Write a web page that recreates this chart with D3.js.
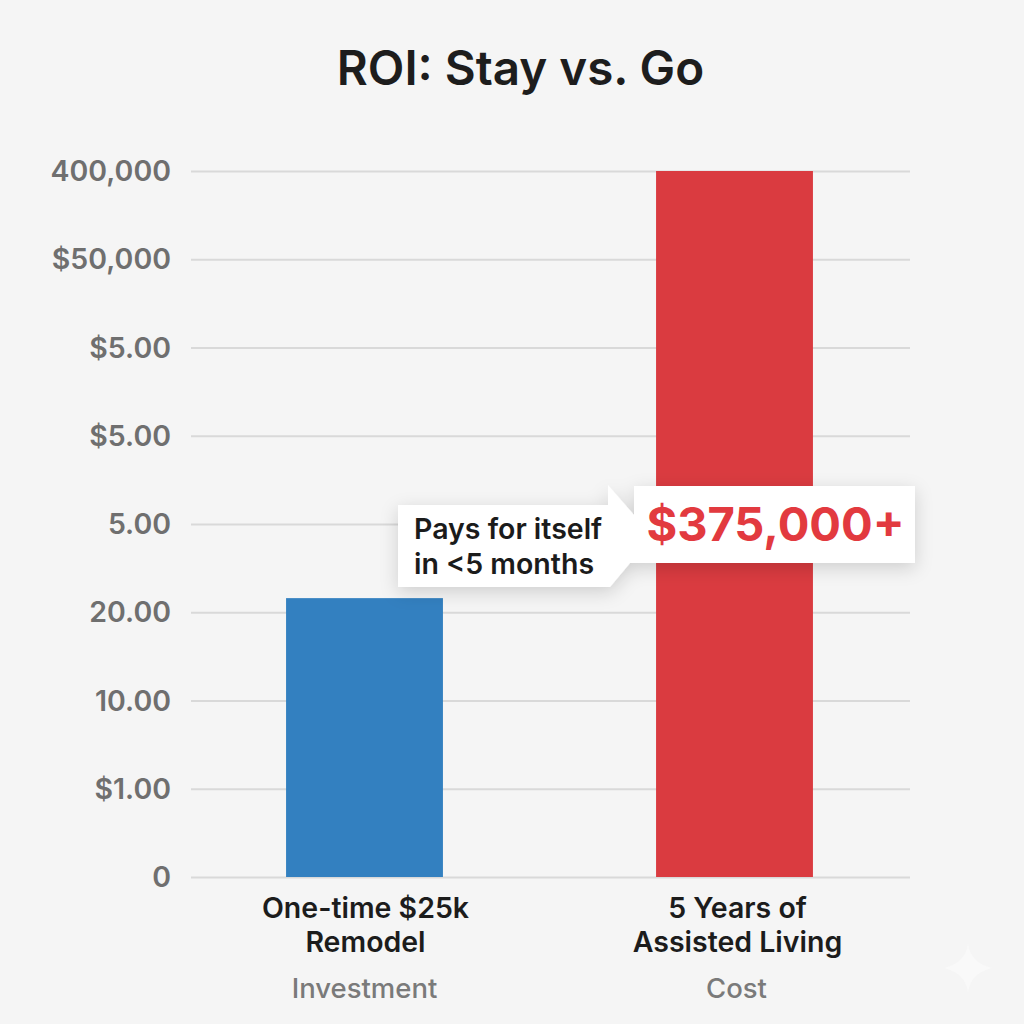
<!DOCTYPE html>
<html><head><meta charset="utf-8">
<script src="https://cdn.jsdelivr.net/npm/d3@7/dist/d3.min.js"></script>
<style>html,body{margin:0;padding:0;background:#f5f5f5}svg{display:block;font-family:Inter,sans-serif}</style>
</head><body><svg id="c" width="1024" height="1024"></svg>
<script>
const title = "ROI: Stay vs. Go";
const categories = ["One-time $25k|Remodel", "5 Years of|Assisted Living"];
const roles = ["Investment", "Cost"];
const values = [158000, 400000];
const barColors = ["#3380c0", "#da3b40"];
const tickValues = [0, 50000, 100000, 150000, 200000, 250000, 300000, 350000, 400000];
const tickLabels = ["0", "$1.00", "10.00", "20.00", "5.00", "$5.00", "$5.00", "$50,000", "400,000"];
const calloutLeft = ["Pays for itself", "in <5 months"];
const calloutRight = "$375,000+";

const svg = d3.select("#c");
const defs = svg.append("defs");
const f = defs.append("filter").attr("id","sh").attr("x","-20%").attr("y","-30%").attr("width","140%").attr("height","170%");
f.append("feDropShadow").attr("dx",0).attr("dy",5).attr("stdDeviation",9).attr("flood-color","#000").attr("flood-opacity",0.16);

svg.append("rect").attr("width",1024).attr("height",1024).attr("fill","#f5f5f5");

const y = d3.scaleLinear().domain([0,400000]).range([877,171]);
const x = d3.scaleBand().domain(categories).range([179.5,919.5]).paddingInner(0.576).paddingOuter(0.288);

svg.append("text").attr("x",520.5).attr("y",85).attr("text-anchor","middle")
  .attr("font-size",47.6).attr("font-weight",600).attr("fill","#1d1d1d").text(title);

const axis = d3.axisLeft(y).tickValues(tickValues).tickSize(0).tickPadding(0)
  .tickFormat((d,i)=>tickLabels[i]);
const ag = svg.append("g").attr("transform","translate(171,0)").call(axis);
ag.select(".domain").remove();
ag.selectAll("text").attr("font-family","Inter,sans-serif").attr("font-size",28.5).attr("font-weight",600).attr("fill","#6f6f6f").attr("dy","0.34em");
ag.selectAll(".tick").append("line").attr("x1",20).attr("x2",739).attr("stroke","#d9d9d9").attr("stroke-width",2);

svg.append("g").selectAll("rect").data(categories).join("rect")
  .attr("x",d=>x(d)).attr("width",x.bandwidth())
  .attr("y",(d,i)=>y(values[i])).attr("height",(d,i)=>y(0)-y(values[i]))
  .attr("fill",(d,i)=>barColors[i]);

const lab = svg.append("g").attr("text-anchor","middle");
const labelShift = [1, 3];
categories.forEach((c,i)=>{
  const cx = x(c)+x.bandwidth()/2+labelShift[i];
  c.split("|").forEach((t,j)=>{
    lab.append("text").attr("x",cx).attr("y",918+j*33.5).attr("font-size",28.5).attr("font-weight",600).attr("fill","#1c1c1c").text(t);
  });
  lab.append("text").attr("x",cx-1).attr("y",998).attr("font-size",27.5).attr("font-weight",500).attr("fill","#7a7a7a").text(roles[i]);
});

const co = svg.append("g").attr("filter","url(#sh)");
co.append("path").attr("fill","#fff")
  .attr("d",d3.line()([[398,505],[608,505],[608,485],[634,515],[634,486],[915,486],[915,563],[630,563],[610,587],[398,587]])+"Z");
calloutLeft.forEach((t,i)=>{
  svg.append("text").attr("x",414).attr("y",539+i*35).attr("font-size",28.5).attr("font-weight",600).attr("fill","#1b1b1b").text(t);
});
svg.append("text").attr("x",775.5).attr("y",541).attr("text-anchor","middle").attr("font-size",47).attr("font-weight",700).attr("fill","#e23a3f").text(calloutRight);

// faint watermark sparkle
svg.append("path").attr("fill","#f9f9f9").attr("d","M968 944 Q971 963 992 968 Q971 973 968 992 Q965 973 944 968 Q965 963 968 944Z");
</script></body></html>
